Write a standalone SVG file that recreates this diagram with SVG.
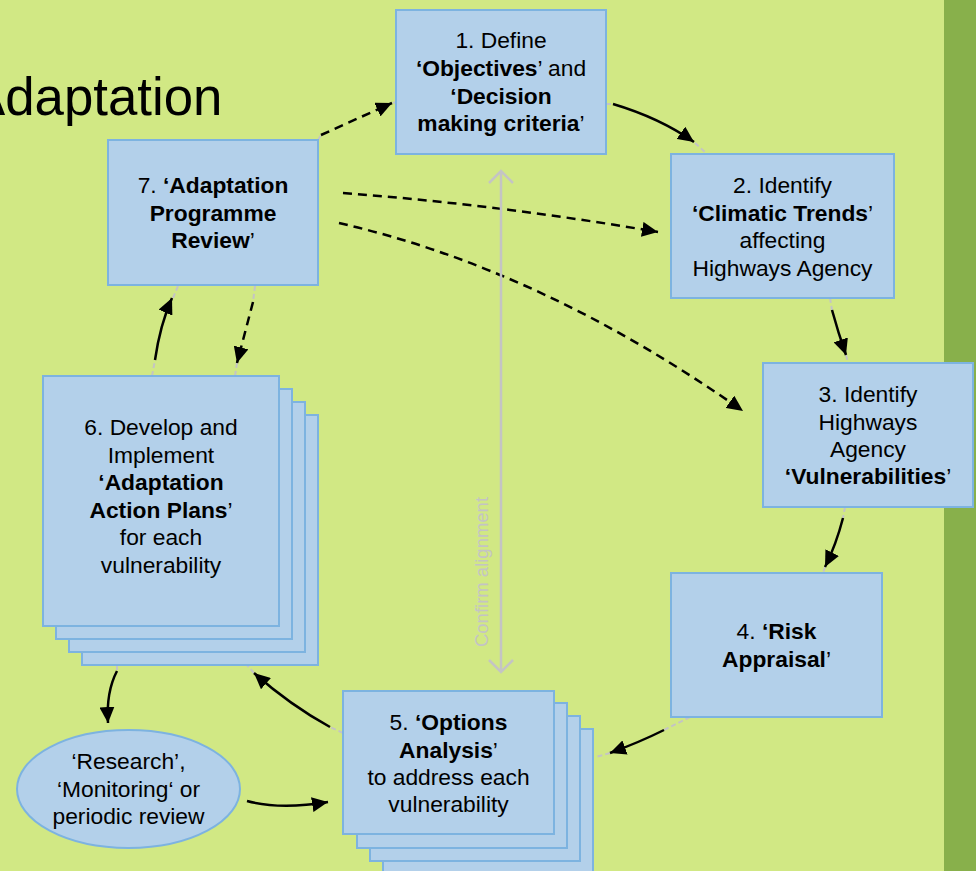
<svg xmlns="http://www.w3.org/2000/svg" width="976" height="871" viewBox="0 0 976 871">
<defs>
<style>
.box{fill:#B3D0EA;stroke:#7DB3E0;stroke-width:2}
.t{font-family:"Liberation Sans",Arial,sans-serif;font-size:22.8px;fill:#000;text-anchor:middle}
.b{font-weight:bold}
.c{fill:none;stroke:#000;stroke-width:2.5}
.d{stroke-dasharray:9 6}
.g{fill:none;stroke:#C4C4C4;stroke-width:2.5}
.gs{fill:none;stroke:#C4C4C4;stroke-width:2;stroke-dasharray:5 3}
</style>
<marker id="ah" markerUnits="userSpaceOnUse" markerWidth="17" markerHeight="15" refX="16" refY="7.5" orient="auto">
<path d="M0,0 L16,7.5 L0,15 Z" fill="#000"/>
</marker>
</defs>
<rect width="976" height="871" fill="#D1E884"/>
<rect x="944" y="0" width="32" height="871" fill="#88B04B"/>
<text x="-30" y="115" font-family="Liberation Sans,Arial,sans-serif" font-size="52.8" fill="#000">Adaptation</text>

<g id="connectors">
<path class="gs" d="M318,140 L321,135 M393,103 L396,102 M606,104 L613,104 M695,143 L706,153 M830,298 L832,310 M846,355 L848,363 M845,507 L843,518 M825,567 L823,573 M690,717 L664,730 M610,753 L596,757 M343,733 L330,727 M254,673 L247,665 M117,665 L117,671 M152,376 L155,360 M178,286 L173,298 M255,286 L253,302 M237,363 L235,376"/>
<path class="c d" d="M321,135 L392,103" marker-end="url(#ah)"/>
<path class="c" d="M613,104 Q660,118 694,142" marker-end="url(#ah)"/>
<path class="c d" d="M343,193 Q500,205 658,232" marker-end="url(#ah)"/>
<path class="c d" d="M339,223 Q541,269 743,411" marker-end="url(#ah)"/>
<path class="c" d="M832,310 Q838,332 846,355" marker-end="url(#ah)"/>
<path class="c" d="M843,518 Q836,545 825,567" marker-end="url(#ah)"/>
<path class="c" d="M664,730 Q640,742 610,753" marker-end="url(#ah)"/>
<path class="c" d="M330,727 Q290,705 254,673" marker-end="url(#ah)"/>
<path class="c" d="M117,671 Q106,692 108,723" marker-end="url(#ah)"/>
<path class="c" d="M247,801 Q280,810 328,802" marker-end="url(#ah)"/>
<path class="c" d="M155,360 Q160,325 172,298" marker-end="url(#ah)"/>
<path class="c d" d="M253,302 L237,363" marker-end="url(#ah)"/>
<g id="confirm">
<path class="g" d="M501,171 L501,672 M489,183 L501,171 L513,183 M489,660 L501,672 L513,660"/>
<text transform="translate(488,572) rotate(-90)" font-family="Liberation Sans,Arial,sans-serif" font-size="18.5" fill="#C4C4C4" text-anchor="middle">Confirm alignment</text>
</g>
</g>

<g id="node1">
<rect class="box" x="396" y="10" width="210" height="144"/>
<text class="t" x="501" y="48">1. Define</text>
<text class="t" x="501" y="76"><tspan class="b">‘Objectives</tspan>’ and</text>
<text class="t" x="501" y="104"><tspan class="b">‘Decision</tspan></text>
<text class="t" x="501" y="131"><tspan class="b">making criteria</tspan>’</text>
</g>

<g id="node2">
<rect class="box" x="671" y="154" width="223" height="144"/>
<text class="t" x="782.5" y="193">2. Identify</text>
<text class="t" x="782.5" y="221"><tspan class="b">‘Climatic Trends</tspan>’</text>
<text class="t" x="782.5" y="248">affecting</text>
<text class="t" x="782.5" y="276">Highways Agency</text>
</g>

<g id="node3">
<rect class="box" x="763" y="363" width="210" height="144"/>
<text class="t" x="868" y="402">3. Identify</text>
<text class="t" x="868" y="430">Highways</text>
<text class="t" x="868" y="457">Agency</text>
<text class="t" x="868" y="484"><tspan class="b">‘Vulnerabilities</tspan>’</text>
</g>

<g id="node4">
<rect class="box" x="671" y="573" width="211" height="144"/>
<text class="t" x="776.5" y="639">4. <tspan class="b">‘Risk</tspan></text>
<text class="t" x="776.5" y="667"><tspan class="b">Appraisal</tspan>’</text>
</g>

<g id="node5">
<rect class="box" x="383" y="729" width="210" height="150"/>
<rect class="box" x="370" y="716" width="210" height="145"/>
<rect class="box" x="357" y="703" width="210" height="145"/>
<rect class="box" x="343" y="691" width="211" height="143"/>
<text class="t" x="448.5" y="730">5. <tspan class="b">‘Options</tspan></text>
<text class="t" x="448.5" y="758"><tspan class="b">Analysis</tspan>’</text>
<text class="t" x="448.5" y="785">to address each</text>
<text class="t" x="448.5" y="812">vulnerability</text>
</g>

<g id="node6">
<rect class="box" x="82" y="415" width="236" height="250"/>
<rect class="box" x="69" y="402" width="236" height="250"/>
<rect class="box" x="56" y="389" width="236" height="250"/>
<rect class="box" x="43" y="376" width="236" height="250"/>
<text class="t" x="161" y="435">6. Develop and</text>
<text class="t" x="161" y="463">Implement</text>
<text class="t" x="161" y="490"><tspan class="b">‘Adaptation</tspan></text>
<text class="t" x="161" y="518"><tspan class="b">Action Plans</tspan>’</text>
<text class="t" x="161" y="545">for each</text>
<text class="t" x="161" y="573">vulnerability</text>
</g>

<g id="node7">
<rect class="box" x="108" y="140" width="210" height="145"/>
<text class="t" x="213" y="193">7. <tspan class="b">‘Adaptation</tspan></text>
<text class="t" x="213" y="221"><tspan class="b">Programme</tspan></text>
<text class="t" x="213" y="248"><tspan class="b">Review</tspan>’</text>
</g>

<g id="node8">
<ellipse class="box" cx="128.5" cy="789" rx="111.5" ry="59"/>
<text class="t" x="128.5" y="769">‘Research’,</text>
<text class="t" x="128.5" y="797">‘Monitoring‘ or</text>
<text class="t" x="128.5" y="824">periodic review</text>
</g>
</svg>
